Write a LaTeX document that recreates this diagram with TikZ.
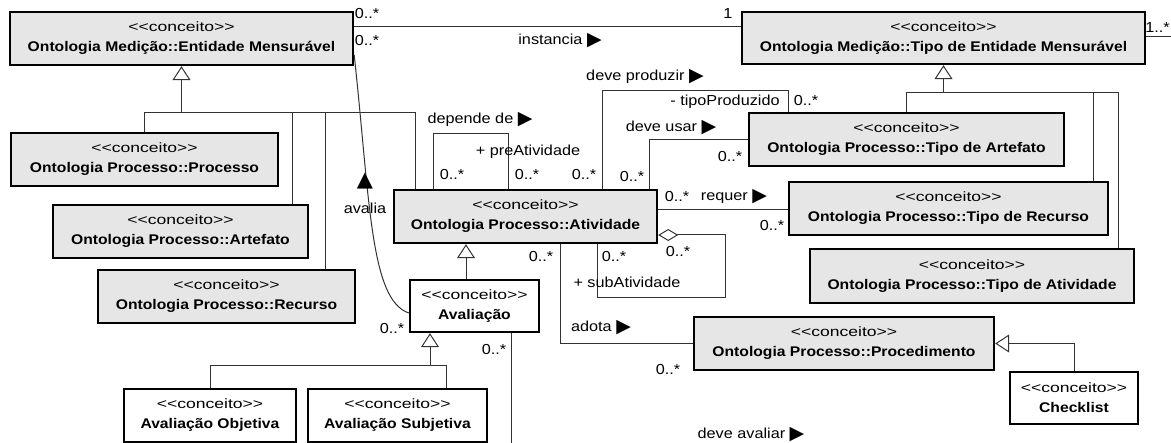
\documentclass[tikz,border=0pt]{standalone}
\usepackage{fontspec}
\setmainfont{Liberation Sans}[FakeStretch=1.12]
\newfontfamily\stereofont{Liberation Sans}[FakeStretch=1.3]
\newfontfamily\symfont{DejaVu Sans}
\usetikzlibrary{arrows.meta}
\definecolor{classgray}{HTML}{E6E6E6}
\newcommand{\stereo}{{\stereofont\mdseries\fontsize{13.5}{20}\selectfont <\kern0pt<conceito>\kern0pt>}}
\newcommand{\dirR}{{\symfont\fontsize{19}{15}\selectfont\raisebox{-1pt}{▶}}}
\begin{document}
\begin{tikzpicture}[x=1pt, y=-1pt,
    cls/.style={draw, line width=2.4pt, fill=classgray, inner sep=0pt, align=center,
      font=\fontsize{14}{20}\selectfont},
    plain/.style={cls, fill=white},
    lbl/.style={inner sep=0pt, font=\fontsize{14.5}{16}\selectfont},
    assoc/.style={line width=1pt, draw=black!80},
    gen/.style={assoc, -{Triangle[open, length=14pt, width=18pt]}},
    aggr/.style={assoc, {Diamond[open, length=20pt, width=12pt]}-}]
        \useasboundingbox (0,0) rectangle (1171,443);
        % measurement ontology
        \node[cls, minimum width=343pt, minimum height=53pt] (em) at (181.5,38.5) {\stereo\\\textbf{Ontologia Medição::Entidade Mensurável}};
        \node[cls, minimum width=403pt, minimum height=52pt] (tem) at (943.5,38) {\stereo\\\textbf{Ontologia Medição::Tipo de Entidade Mensurável}};
        % process ontology, left side
        \node[cls, minimum width=267pt, minimum height=53pt] (proc) at (144.5,159.5) {\stereo\\\textbf{Ontologia Processo::Processo}};
        \node[cls, minimum width=255pt, minimum height=53pt] (art) at (180.5,231.5) {\stereo\\\textbf{Ontologia Processo::Artefato}};
        \node[cls, minimum width=257pt, minimum height=53pt] (rec) at (226.5,296.5) {\stereo\\\textbf{Ontologia Processo::Recurso}};
        \node[cls, minimum width=263pt, minimum height=53pt] (ativ) at (525.5,216.5) {\stereo\\\textbf{Ontologia Processo::Atividade}};
        % process ontology, types
        \node[cls, minimum width=315pt, minimum height=53pt] (tart) at (906.5,139.5) {\stereo\\\textbf{Ontologia Processo::Tipo de Artefato}};
        \node[cls, minimum width=319pt, minimum height=53pt] (trec) at (948.5,208.5) {\stereo\\\textbf{Ontologia Processo::Tipo de Recurso}};
        \node[cls, minimum width=324pt, minimum height=54pt] (tativ) at (972,276) {\stereo\\\textbf{Ontologia Processo::Tipo de Atividade}};
        \node[cls, minimum width=300pt, minimum height=53pt] (procd) at (844,343.5) {\stereo\\\textbf{Ontologia Processo::Procedimento}};
        % new concepts
        \node[plain, minimum width=129pt, minimum height=52pt] (aval) at (474.5,306) {\stereo\\\textbf{Avaliação}};
        \node[plain, minimum width=172pt, minimum height=53pt] (aobj) at (210,415.5) {\stereo\\\textbf{Avaliação Objetiva}};
        \node[plain, minimum width=179pt, minimum height=53pt] (asub) at (397.5,415.5) {\stereo\\\textbf{Avaliação Subjetiva}};
        \node[plain, minimum width=128pt, minimum height=52pt] (check) at (1074,398) {\stereo\\\textbf{Checklist}};

        % generalizations
        \coordinate (emBus) at (0,113);
        \coordinate (temBus) at (0,93);
        \coordinate (avalBus) at (0,366);
        \draw[gen] (em.south |- emBus) -- (em.south);
        \draw[assoc] (proc.north) |- (415,113) -- (ativ.north -| 415,0);
        \foreach \n/\x in {art/292, rec/325}
            \draw[assoc] (\n.north -| \x,0) -- (\x,113);
        \draw[gen] (tem.south |- temBus) -- (tem.south);
        \draw[assoc] (tart.north) |- (1118,93) -- (tativ.north -| 1118,0);
        \draw[assoc] (trec.north -| 1093,0) -- (1093,93);
        \draw[gen] (aval.north -| 466,0) -- (ativ.south -| 466,0);
        \draw[gen] (430,366) -- (aval.south -| 430,0);
        \draw[assoc] (aobj.north) |- (446,366) -- (asub.north -| 446,0);
        \draw[gen] (check.north) |- (procd.east);

        % instancia
        \coordinate (temOut) at (1171,37);
        \draw[assoc] (em.east |- 0,27) -- (tem.west |- 0,27);
        \draw[assoc] (tem.east |- temOut) -- (temOut);
        \node[lbl] (mInstA) at (367,14) {0..*};
        \node[lbl] (mInstB) at (728,14) {1};
        \node[lbl, anchor=east] (mTem) at (1170,28) {1..*};
        \node[lbl] (instLbl) at (560,41) {instancia \dirR};

        % avalia
        \draw[assoc] (em.east |- 0,55) .. controls (370,200) and (370,300) .. (aval.west |- 0,313);
        \node[lbl, font=\symfont\fontsize{21}{21}\selectfont] (avaliaTip) at (365,181) {▲};
        \node[lbl] (avaliaLbl) at (365,208) {avalia};
        \node[lbl] (mAvA) at (367,41) {0..*};
        \node[lbl] (mAvB) at (392,329) {0..*};

        % depende de
        \draw[assoc] (ativ.north -| 433,0) |- (508,134) -- (ativ.north -| 508,0);
        \node[lbl] (depLbl) at (480,120) {depende de \dirR};
        \node[lbl] (preLbl) at (528,152) {+ preAtividade};
        \node[lbl] (mDepA) at (452,175) {0..*};
        \node[lbl] (mDepB) at (527,175) {0..*};

        % deve produzir
        \draw[assoc] (ativ.north -| 602,0) |- (788,91) -- (tart.north -| 788,0);
        \node[lbl] (prodLbl) at (645,77) {deve produzir \dirR};
        \node[lbl] (tipoLbl) at (725,102) {- tipoProduzido};
        \node[lbl] (mProdA) at (584,175) {0..*};
        \node[lbl] (mProdB) at (806,101) {0..*};

        % deve usar
        \draw[assoc] (ativ.north -| 649,0) |- (tart.west);
        \node[lbl] (usarLbl) at (671,128) {deve usar \dirR};
        \node[lbl] (mUsarA) at (632,177) {0..*};
        \node[lbl] (mUsarB) at (730,157) {0..*};

        % requer
        \draw[assoc] (ativ.east |- 0,210) -- (trec.west |- 0,210);
        \node[lbl] (mReqA) at (677,197) {0..*};
        \node[lbl] (reqLbl) at (734,197) {requer \dirR};
        \node[lbl] (mReqB) at (772,226) {0..*};

        % sub activities
        \draw[aggr] (ativ.east |- 0,235) -| (725,298) -| (ativ.south -| 597,0);
        \node[lbl] (mSubA) at (614,257) {0..*};
        \node[lbl] (mSubB) at (678,252) {0..*};
        \node[lbl] (subLbl) at (627,282) {+ subAtividade};

        % adota
        \draw[assoc] (ativ.south -| 560,0) |- (procd.west);
        \node[lbl] (mAdoA) at (541,257) {0..*};
        \node[lbl] (adoLbl) at (601,328) {adota \dirR};
        \node[lbl] (mAdoB) at (668,370) {0..*};

        % deve avaliar
        \coordinate (avalOut) at (511,444);
        \draw[assoc] (aval.south -| 511,0) -- (avalOut);
        \node[lbl] (mAvalOut) at (494,350) {0..*};
        \node[lbl] (avalLbl) at (751,435) {deve avaliar \dirR};
\end{tikzpicture}
\end{document}
